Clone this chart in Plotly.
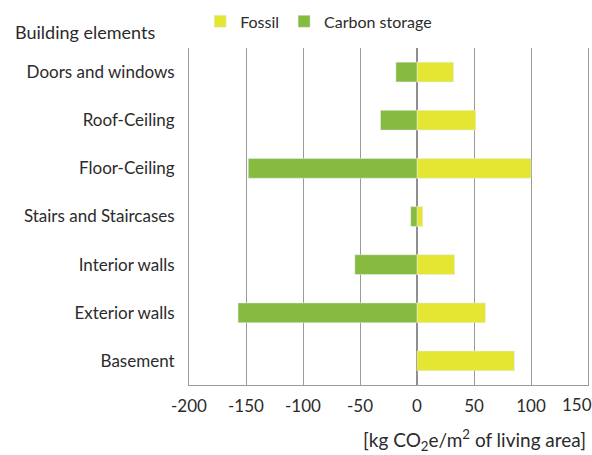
import plotly.graph_objects as go

categories = ["Doors and windows", "Roof-Ceiling", "Floor-Ceiling", "Stairs and Staircases",
              "Interior walls", "Exterior walls", "Basement"]
fossil = [32, 51.5, 100, 5, 33, 60, 85.5]
carbon_storage = [-18.5, -32, -148, -5.5, -54.5, -157, 0]
tick_values = [-200, -150, -100, -50, 0, 50, 100, 150]
tick_labels = ["-200", "-150", "-100", "-50", "0", "50", "100", "150"]

FONT = "Lato"
TXT = "#2b2b2b"
GREEN = "#86BB40"
YELLOW = "#E4E631"
GRID = "#9a9a9a"

fig = go.Figure()
fig.add_bar(y=categories, x=fossil, orientation="h", name="Fossil", marker_color=YELLOW)
fig.add_bar(y=categories, x=carbon_storage, orientation="h", name="Carbon storage", marker_color=GREEN)

fig.update_layout(
    width=592, height=455,
    margin=dict(l=189, r=4, t=42, b=70),
    paper_bgcolor="white", plot_bgcolor="white",
    barmode="relative", bargap=0.59,
    font=dict(family=FONT, size=16, color=TXT),
    legend=dict(orientation="h", x=0.028, xanchor="left", y=1.079, yanchor="middle",
                font=dict(size=16, color=TXT), itemwidth=30, traceorder="normal",
                bgcolor="rgba(0,0,0,0)"),
    xaxis=dict(range=[-200, 150], tickvals=tick_values[:-1], ticktext=tick_labels[:-1],
               showgrid=True, gridcolor=GRID, gridwidth=1,
               zeroline=True, zerolinecolor="#8f8f8f", zerolinewidth=1.5,
               showline=True, linecolor=GRID, linewidth=1, mirror=False,
               ticks="", ticklabelstandoff=6, tickfont=dict(size=17, color=TXT), fixedrange=True),
    yaxis=dict(categoryorder="array", categoryarray=categories[::-1],
               ticks="", ticklabelstandoff=10, tickfont=dict(size=17, color=TXT),
               showline=True, linecolor=GRID, linewidth=1, mirror=True,
               showgrid=False, fixedrange=True),
    annotations=[
        dict(text="Building elements", x=-176 / 399, y=1.0 + 16 / 343,
             xref="paper", yref="paper", xanchor="left", yanchor="middle",
             showarrow=False, font=dict(size=18, color=TXT)),
        dict(text=tick_labels[-1], x=tick_values[-1], y=0, xref="x", yref="paper",
             xanchor="right", yanchor="middle", yshift=-19, xshift=6,
             showarrow=False, font=dict(size=17, color=TXT)),
        dict(text="[kg CO<sub>2</sub>e/m<sup>2</sup> of living area]", x=1.0, y=0,
             xref="paper", yref="paper", xanchor="right", yanchor="middle",
             yshift=-55, showarrow=False, font=dict(size=19, color=TXT)),
    ],
)

fig.write_html("out.html", config={"displayModeBar": False},
               post_script="document.body.style.margin='0';")
